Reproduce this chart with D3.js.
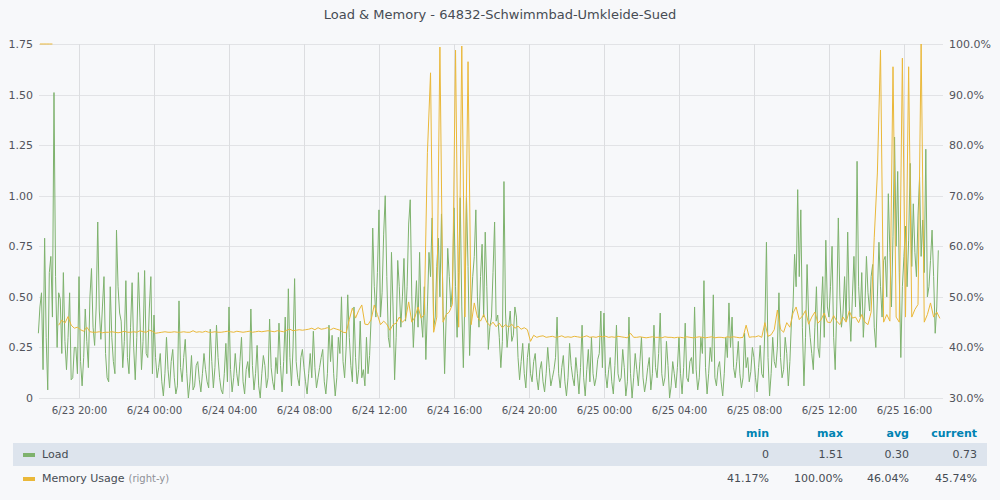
<!DOCTYPE html>
<html>
<head>
<meta charset="utf-8">
<script src="https://cdn.jsdelivr.net/npm/d3@7"></script>
<style>
  html, body { margin: 0; padding: 0; background: #f7f8fa; }
  svg { display: block; font-family: "DejaVu Sans", sans-serif; }
</style>
</head>
<body>
<div id="chart"></div>
<script>
// chart data
// load: one point every 5 minutes from 6/23 17:50
// memory: one point every 10 minutes from 6/23 17:55
const loadStart = Date.UTC(2021, 5, 23, 17, 50);
const loadStepMs = 5 * 60 * 1000;
const memoryStart = Date.UTC(2021, 5, 23, 17, 55);
const memoryStepMs = 10 * 60 * 1000;

const loadValues = [
  // 6/23 17:50 - 19:55
  0.32, 0.45, 0.52, 0.14, 0.79, 0.30, 0.04, 0.62, 0.70, 0.40, 1.51, 0.60, 0.25, 0.52, 0.49, 0.22, 0.62, 0.28, 0.14, 0.30, 0.52, 0.09, 0.10, 0.25, 0.25, 0.12,
  // 20:00 - 23:55
  0.60, 0.18, 0.06, 0.20, 0.44, 0.28, 0.15, 0.50, 0.64, 0.35, 0.26, 0.45, 0.87, 0.43, 0.29, 0.45, 0.60, 0.22, 0.10, 0.08, 0.55, 0.30, 0.18, 0.12,
  0.83, 0.55, 0.42, 0.38, 0.15, 0.28, 0.58, 0.20, 0.12, 0.35, 0.57, 0.25, 0.09, 0.30, 0.62, 0.40, 0.14, 0.28, 0.63, 0.22, 0.20, 0.44, 0.60, 0.12,
  // 6/24 00:00 - 03:55
  0.41, 0.20, 0.10, 0.15, 0.22, 0.08, 0.01, 0.12, 0.30, 0.14, 0.05, 0.18, 0.24, 0.10, 0.02, 0.06, 0.48, 0.15, 0.08, 0.20, 0.29, 0.12, 0.00, 0.08,
  0.21, 0.04, 0.06, 0.16, 0.18, 0.09, 0.03, 0.12, 0.22, 0.14, 0.08, 0.05, 0.34, 0.18, 0.05, 0.15, 0.36, 0.20, 0.10, 0.04, 0.02, 0.12, 0.27, 0.08,
  // 04:00 - 07:55
  0.45, 0.14, 0.03, 0.10, 0.22, 0.12, 0.06, 0.18, 0.30, 0.08, 0.02, 0.14, 0.18, 0.10, 0.44, 0.16, 0.04, 0.12, 0.26, 0.06, 0.00, 0.12, 0.21, 0.16,
  0.05, 0.10, 0.39, 0.15, 0.08, 0.04, 0.20, 0.12, 0.37, 0.16, 0.03, 0.18, 0.40, 0.12, 0.54, 0.20, 0.06, 0.25, 0.59, 0.18, 0.10, 0.06, 0.20, 0.24,
  // 08:00 - 11:55
  0.15, 0.08, 0.02, 0.12, 0.22, 0.10, 0.33, 0.15, 0.05, 0.10, 0.15, 0.20, 0.24, 0.08, 0.02, 0.12, 0.36, 0.18, 0.31, 0.12, 0.01, 0.10, 0.30, 0.22,
  0.50, 0.18, 0.10, 0.25, 0.51, 0.30, 0.16, 0.08, 0.45, 0.20, 0.07, 0.14, 0.38, 0.10, 0.14, 0.06, 0.30, 0.12, 0.21, 0.40, 0.84, 0.55, 0.40, 0.62,
  // 12:00 - 15:55
  0.93, 0.40, 0.52, 0.81, 1.00, 0.60, 0.30, 0.25, 0.72, 0.45, 0.09, 0.30, 0.68, 0.55, 0.35, 0.50, 0.69, 0.38, 0.55, 0.86, 0.98, 0.50, 0.25, 0.42,
  0.58, 0.35, 0.72, 0.40, 0.30, 0.55, 0.19, 0.45, 0.72, 0.60, 0.89, 0.35, 0.40, 0.65, 0.79, 0.50, 0.91, 0.45, 0.12, 0.40, 0.74, 0.60, 0.45, 0.55,
  // 16:00 - 19:55
  0.94, 0.55, 0.30, 0.62, 0.99, 0.45, 0.15, 0.50, 0.99, 0.65, 0.21, 0.45, 0.60, 0.70, 0.93, 0.50, 0.35, 0.60, 0.76, 0.40, 0.82, 0.55, 0.24, 0.35,
  0.40, 0.62, 0.87, 0.38, 0.41, 0.30, 0.15, 0.28, 1.07, 0.42, 0.25, 0.35, 0.43, 0.28, 0.31, 0.45, 0.40, 0.20, 0.09, 0.18, 0.27, 0.12, 0.05, 0.20,
  // 20:00 - 23:55
  0.27, 0.12, 0.08, 0.18, 0.22, 0.10, 0.04, 0.14, 0.18, 0.08, 0.03, 0.12, 0.25, 0.15, 0.06, 0.10, 0.14, 0.20, 0.40, 0.12, 0.05, 0.15, 0.21, 0.08,
  0.01, 0.10, 0.27, 0.16, 0.10, 0.06, 0.20, 0.12, 0.02, 0.15, 0.36, 0.10, 0.01, 0.14, 0.24, 0.08, 0.30, 0.12, 0.06, 0.10, 0.19, 0.22, 0.43, 0.15,
  // 6/25 00:00 - 03:55
  0.42, 0.12, 0.05, 0.14, 0.20, 0.08, 0.02, 0.16, 0.36, 0.12, 0.08, 0.10, 0.24, 0.15, 0.01, 0.08, 0.40, 0.12, 0.00, 0.10, 0.22, 0.14, 0.06, 0.18,
  0.30, 0.10, 0.03, 0.08, 0.15, 0.20, 0.04, 0.12, 0.36, 0.15, 0.10, 0.22, 0.42, 0.12, 0.06, 0.10, 0.28, 0.16, 0.00, 0.06, 0.18, 0.12, 0.05, 0.15,
  // 04:00 - 07:55
  0.30, 0.12, 0.02, 0.15, 0.37, 0.10, 0.08, 0.18, 0.20, 0.12, 0.45, 0.14, 0.04, 0.10, 0.30, 0.22, 0.58, 0.15, 0.02, 0.12, 0.25, 0.18, 0.51, 0.10,
  0.06, 0.15, 0.18, 0.08, 0.01, 0.12, 0.30, 0.20, 0.47, 0.25, 0.40, 0.15, 0.10, 0.18, 0.28, 0.12, 0.05, 0.10, 0.32, 0.15, 0.20, 0.08, 0.13, 0.25,
  // 08:00 - 11:55
  0.20, 0.10, 0.03, 0.15, 0.26, 0.12, 0.10, 0.35, 0.77, 0.20, 0.01, 0.12, 0.30, 0.18, 0.15, 0.25, 0.52, 0.20, 0.10, 0.14, 0.30, 0.22, 0.06, 0.18,
  0.38, 0.45, 0.71, 0.55, 1.03, 0.60, 0.93, 0.35, 0.06, 0.30, 0.66, 0.40, 0.30, 0.22, 0.14, 0.35, 0.55, 0.25, 0.20, 0.42, 0.60, 0.30, 0.78, 0.45,
  // 12:00 - 15:55
  0.40, 0.55, 0.75, 0.30, 0.14, 0.45, 0.89, 0.50, 0.35, 0.42, 0.60, 0.38, 0.82, 0.45, 0.28, 0.50, 0.70, 0.45, 1.17, 0.55, 0.40, 0.62, 0.30, 0.45,
  0.70, 0.52, 0.43, 0.60, 0.66, 0.35, 0.25, 0.50, 0.77, 0.55, 0.40, 0.68, 0.70, 0.50, 1.01, 0.72, 0.45, 0.80, 1.29, 0.75, 1.12, 0.62, 0.20, 0.55,
  // 16:00 - 17:50
  0.70, 0.85, 0.55, 0.78, 1.16, 0.65, 0.96, 0.72, 0.60, 0.90, 1.09, 0.70, 0.88, 0.62, 1.23, 0.50, 0.55, 0.68, 0.83, 0.60, 0.32, 0.45, 0.73
];

const memoryValues = [
  100, 100, 100, 100, 100, null, 44.4, 45.4, 44.8, 46.1, 44.4, 43.8, 44.0,
  43.5, 43.2, 44.0, 43.1, 43.0, 43.0, 43.1, 42.9, 43.0, 43.0, 43.1, 43.0, 42.9, 43.0, 43.2, 43.0, 43.0, 43.1, 43.0, 43.3, 43.1, 43.0, 43.4, 43.2,
  42.8, 42.9, 43.0, 43.1, 43.0, 43.0, 43.1, 43.0, 43.0, 43.1, 43.0, 43.0, 43.3, 43.0, 43.1, 43.0, 43.2, 43.0, 43.0, 43.1, 43.0, 43.0, 43.1, 43.2,
  43.1, 43.0, 43.2, 43.1, 43.0, 43.1, 43.2, 43.0, 43.1, 43.2, 43.1, 43.2, 43.3, 43.2, 43.1, 43.3, 43.2, 43.1, 43.4, 43.6, 43.3, 43.4, 43.5, 43.4,
  43.5, 43.6, 43.8, 43.5, 43.9, 43.6, 43.7, 43.9, 43.5, 43.8, 43.6, 43.4, 43.0, 42.9, 45.5, 47.8, 45.8, 47.3, 48.4, 44.6, 44.5, 45.5, 48.4, 46.5,
  44.5, 45.2, 44.6, 43.4, 44.5, 44.8, 46.0, 45.0, 45.6, 49.0, 45.0, 46.0, 48.0, 45.8, 46.5, 78.5, 94.3, 43.0, 46.0, 99.4, 45.0, 46.5, 47.0, 48.5,
  98.8, 44.0, 99.6, 46.0, 96.5, 44.5, 48.8, 46.0, 45.2, 46.5, 45.0, 44.3, 45.0, 44.1, 44.8, 43.9, 44.5, 44.0, 44.6, 43.8, 44.2, 43.6, 43.9, 43.5,
  41.2, 42.4, 42.0, 42.2, 42.3, 42.0, 42.1, 42.2, 42.0, 42.1, 42.3, 42.0, 42.1, 42.0, 42.2, 42.1, 42.0, 42.1, 42.3, 42.0, 42.1, 42.0, 42.2, 42.1,
  42.2, 42.0, 42.1, 42.0, 42.2, 42.1, 42.0, 41.9, 42.8, 42.0, 42.0, 42.1, 42.0, 41.9, 42.0, 42.1, 42.0, 42.0, 41.9, 42.1, 42.0, 42.0, 41.9, 42.0,
  42.0, 41.9, 42.1, 42.0, 41.9, 42.0, 42.1, 42.0, 41.9, 42.0, 42.1, 41.9, 42.0, 42.0, 41.9, 42.1, 42.0, 42.1, 42.0, 41.9, 42.0, 44.4, 42.0, 42.1,
  42.1, 42.3, 42.0, 44.9, 42.2, 42.5, 43.5, 47.4, 43.6, 43.0, 44.9, 44.0, 46.8, 48.0, 45.5, 46.2, 47.3, 44.6, 46.0, 47.0, 44.8, 45.5, 46.8, 45.0,
  44.9, 46.3, 45.2, 44.5, 46.0, 45.0, 47.2, 45.8, 46.0, 44.9, 46.5, 45.0, 44.5, 47.0, 61.8, 74.5, 98.8, 45.0, 46.5, 45.2, 95.5, 46.0, 45.0, 97.2,
  46.0, 95.5, 46.0, 47.5, 48.5, 100, 45.0, 46.5, 48.8, 46.0, 47.0, 45.74
];

const leftTicks = [0, 0.25, 0.5, 0.75, 1, 1.25, 1.5, 1.75];
const rightTicks = [30, 40, 50, 60, 70, 80, 90, 100];

const seriesNames = ["Load", "Memory Usage"];
const seriesColors = ["#7eb26d", "#eab839"];
const legendHeaders = ["min", "max", "avg", "current"];
const loadStats = ["0", "1.51", "0.30", "0.73"];
const memoryStats = ["41.17%", "100.00%", "46.04%", "45.74%"];

const width = 1000, height = 500,
      margin = ({top: 44, right: 57, bottom: 102, left: 39});

const loadData = loadValues.map((v, i) => ({t: new Date(loadStart + i * loadStepMs), v: v}));
const memoryData = memoryValues.map((v, i) => ({t: new Date(memoryStart + i * memoryStepMs), v: v}));

let svg = d3.select("#chart")
    .append("svg")
    .attr("width", width)
    .attr("height", height)
    .attr("viewBox", [0, 0, width, height]);

svg.append("rect") // panel background
    .attr("width", width)
    .attr("height", height)
    .attr("fill", "#f7f8fa");

let x = d3.scaleUtc()
    .domain([new Date(Date.UTC(2021, 5, 23, 17, 52)), new Date(Date.UTC(2021, 5, 25, 18, 5))])
    .range([margin.left, width - margin.right]);

let y = d3.scaleLinear()
    .domain([0, 1.75])
    .range([height - margin.bottom, margin.top]);

let y2 = d3.scaleLinear()
    .domain([30, 100])
    .range([height - margin.bottom, margin.top]);

const xTicks = x.ticks(d3.utcHour.every(4));

// grid
svg.append("g")
    .selectAll("line")
    .data(leftTicks)
    .join("line")
    .attr("x1", margin.left)
    .attr("x2", width - margin.right)
    .attr("y1", d => Math.round(y(d)) + 0.5)
    .attr("y2", d => Math.round(y(d)) + 0.5)
    .attr("stroke", "#e2e3e6");

svg.append("g")
    .selectAll("line")
    .data(xTicks)
    .join("line")
    .attr("x1", d => Math.round(x(d)) + 0.5)
    .attr("x2", d => Math.round(x(d)) + 0.5)
    .attr("y1", margin.top)
    .attr("y2", height - margin.bottom)
    .attr("stroke", "#dcdde0");

// axes
const xAxis = g => g
    .attr("transform", `translate(0, ${height - margin.bottom})`)
    .call(d3.axisBottom(x).tickValues(xTicks).tickSize(0).tickPadding(9)
        .tickFormat(d3.utcFormat("%-m/%d %H:%M")))
    .call(g => g.select(".domain").remove());

const yAxis = g => g
    .attr("transform", `translate(${margin.left - 5}, 0)`)
    .call(d3.axisLeft(y).tickValues(leftTicks).tickSize(0).tickPadding(1)
        .tickFormat(d => d === 0 ? "0" : d3.format(".2f")(d)))
    .call(g => g.select(".domain").remove());

const y2Axis = g => g
    .attr("transform", `translate(${width - margin.right + 5}, 0)`)
    .call(d3.axisRight(y2).tickValues(rightTicks).tickSize(0).tickPadding(1)
        .tickFormat(d => d3.format(".1f")(d) + "%"))
    .call(g => g.select(".domain").remove());

svg.append("g").call(xAxis)
    .attr("font-size", 10.2).attr("font-family", "DejaVu Sans");
svg.append("g").call(yAxis)
    .attr("font-size", 11).attr("font-family", "DejaVu Sans");
svg.append("g").call(y2Axis)
    .attr("font-size", 11).attr("font-family", "DejaVu Sans");
svg.selectAll(".tick text").attr("fill", "#52545c");

// lines
const line = (scale) => d3.line()
    .defined(d => d.v !== null)
    .x(d => x(d.t))
    .y(d => scale(d.v));

svg.append("path")
    .datum(loadData)
    .attr("fill", "none")
    .attr("stroke", seriesColors[0])
    .attr("stroke-width", 1)
    .attr("d", line(y));

svg.append("path")
    .datum(memoryData)
    .attr("fill", "none")
    .attr("stroke", seriesColors[1])
    .attr("stroke-width", 1)
    .attr("d", line(y2));

// title
svg.append("text")
    .attr("x", width / 2)
    .attr("y", 19)
    .attr("text-anchor", "middle")
    .attr("fill", "#464c54")
    .style("font-size", "13px")
    .text("Load & Memory - 64832-Schwimmbad-Umkleide-Sued");

// legend table
const colRight = [769, 843, 909, 977];

svg.append("g")
    .selectAll("text")
    .data(legendHeaders)
    .join("text")
    .attr("x", (d, i) => colRight[i])
    .attr("y", 437)
    .attr("text-anchor", "end")
    .attr("fill", "#0083b3")
    .style("font-size", "11px")
    .style("font-weight", "bold")
    .text(d => d);

svg.append("rect") // highlighted first row
    .attr("x", 13)
    .attr("y", 443)
    .attr("width", 974)
    .attr("height", 23)
    .attr("fill", "#dde4ed");

const rows = [
  {name: seriesNames[0], color: seriesColors[0], stats: loadStats, y: 458, extra: ""},
  {name: seriesNames[1], color: seriesColors[1], stats: memoryStats, y: 482, extra: "(right-y)"}
];

let row = svg.selectAll(".legend-row")
    .data(rows)
    .join("g")
    .attr("class", "legend-row");

row.append("rect")
    .attr("x", 23)
    .attr("y", d => d.y - 5)
    .attr("width", 12)
    .attr("height", 4)
    .attr("fill", d => d.color);

let label = row.append("text")
    .attr("x", 42)
    .attr("y", d => d.y)
    .attr("fill", "#464c54")
    .style("font-size", "11px");
label.append("tspan").text(d => d.name);
label.append("tspan")
    .attr("dx", 4)
    .attr("fill", "#8e9097")
    .style("font-size", "10px")
    .text(d => d.extra);

row.selectAll(".stat")
    .data(d => d.stats.map((s, i) => ({s: s, i: i, y: d.y})))
    .join("text")
    .attr("class", "stat")
    .attr("x", d => colRight[d.i])
    .attr("y", d => d.y)
    .attr("text-anchor", "end")
    .attr("fill", "#464c54")
    .style("font-size", "11px")
    .text(d => d.s);
</script>
</body>
</html>
